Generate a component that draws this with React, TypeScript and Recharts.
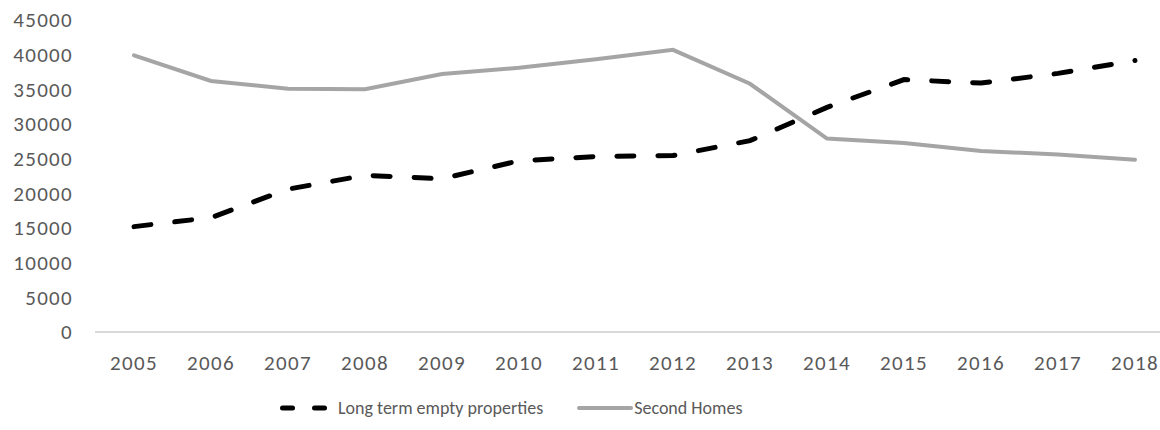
import React from 'react';
import { LineChart, Line, XAxis, YAxis, CartesianGrid, Legend } from 'recharts';

const years = ['2005', '2006', '2007', '2008', '2009', '2010', '2011', '2012', '2013', '2014', '2015', '2016', '2017', '2018'];
const longTermEmpty = [15200, 16500, 20600, 22600, 22100, 24700, 25300, 25450, 27600, 32400, 36400, 35900, 37300, 39150];
const secondHomes = [39900, 36200, 35100, 35000, 37200, 38100, 39350, 40700, 35800, 27900, 27250, 26100, 25600, 24850];
const yTicks = [0, 5000, 10000, 15000, 20000, 25000, 30000, 35000, 40000, 45000];

const data = years.map((year, i) => ({
  year,
  empty: longTermEmpty[i],
  second: secondHomes[i],
}));

const FONT = "Carlito, 'Open Sans', sans-serif";
const TEXT = '#595959';
const tickStyle = { fill: TEXT, fontFamily: FONT, fontSize: 21, letterSpacing: 1.3 };

const LegendContent = () => (
  <div style={{ display: 'flex', alignItems: 'center', fontFamily: FONT, fontSize: 18, color: TEXT, height: 30, whiteSpace: 'nowrap' }}>
    <svg width={48} height={12}>
      <line x1={2.5} y1={6} x2={12.5} y2={6} stroke="#000" strokeWidth={5} strokeLinecap="round" />
      <line x1={34.5} y1={6} x2={44.5} y2={6} stroke="#000" strokeWidth={5} strokeLinecap="round" />
    </svg>
    <span style={{ marginLeft: 10 }}>Long term empty properties</span>
    <svg width={56} height={12} style={{ marginLeft: 34 }}>
      <line x1={2} y1={6} x2={54} y2={6} stroke="#a5a5a5" strokeWidth={4} strokeLinecap="round" />
    </svg>
    <span style={{ marginLeft: 1 }}>Second Homes</span>
  </div>
);

export default function App() {
  return (
    <div style={{ position: 'absolute', left: 0, top: 0, width: 1160, height: 430, overflow: 'hidden', background: '#fff' }}>
      <LineChart width={1160} height={430} data={data} margin={{ top: 20, right: 0, bottom: 0, left: 0 }}>
        <CartesianGrid horizontal={false} vertical={false} />
        <XAxis
          dataKey="year"
          stroke="#d9d9d9"
          strokeWidth={2}
          tickLine={false}
          tickSize={0}
          tickMargin={23}
          height={68}
          padding={{ left: 39, right: 25 }}
          tick={tickStyle}
        />
        <YAxis
          domain={[0, 45000]}
          ticks={yTicks}
          axisLine={false}
          tickLine={false}
          tickSize={0}
          tickMargin={22}
          width={95}
          tick={tickStyle}
        />
        <Legend content={<LegendContent />} wrapperStyle={{ left: 280, width: 'auto', bottom: 7, height: 30 }} />
        <Line
          type="linear"
          dataKey="empty"
          name="Long term empty properties"
          stroke="#000"
          strokeWidth={5}
          strokeDasharray="17 24"
          strokeLinecap="round"
          dot={false}
          isAnimationActive={false}
        />
        <Line
          type="linear"
          dataKey="second"
          name="Second Homes"
          stroke="#a5a5a5"
          strokeWidth={4}
          strokeLinecap="round"
          dot={false}
          isAnimationActive={false}
        />
      </LineChart>
    </div>
  );
}
